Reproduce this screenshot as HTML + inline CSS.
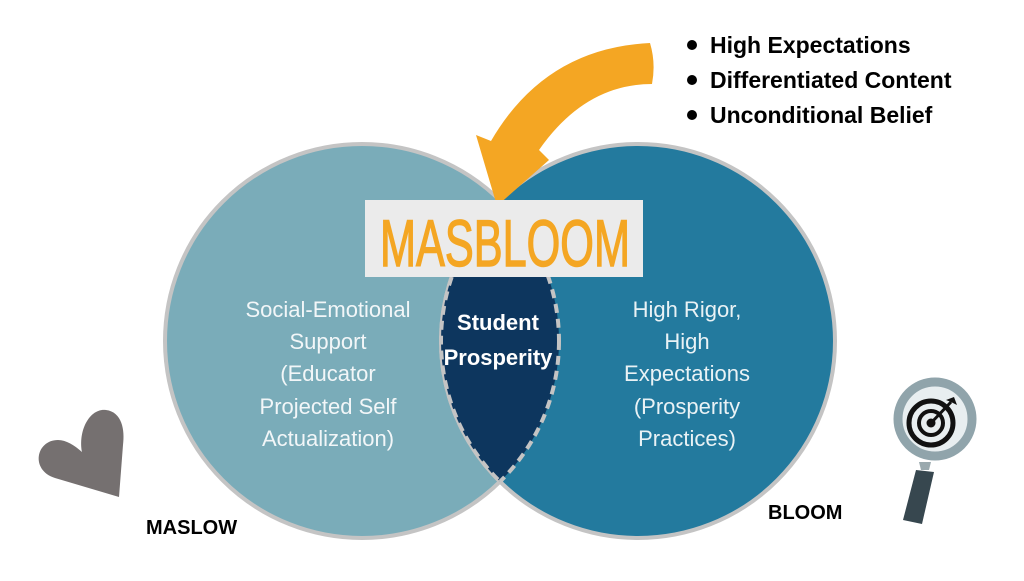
<!DOCTYPE html>
<html><head><meta charset="utf-8"><style>
body{margin:0;width:1024px;height:576px;background:#fff;overflow:hidden;font-family:"Liberation Sans",sans-serif}
</style></head><body>
<svg width="1024" height="576" viewBox="0 0 1024 576" xmlns="http://www.w3.org/2000/svg">
<defs>
<clipPath id="cl"><circle cx="362" cy="341" r="197"/></clipPath>
<clipPath id="cr"><circle cx="638" cy="341" r="197"/></clipPath>
</defs>
<circle cx="362" cy="341" r="197" fill="#7aacb9" stroke="#c4c4c4" stroke-width="4"/>
<circle cx="638" cy="341" r="197" fill="#237a9e" stroke="#c4c4c4" stroke-width="4"/>
<g clip-path="url(#cl)">
<circle cx="638" cy="341" r="197" fill="#0d365e"/>
<circle cx="638" cy="341" r="197" fill="none" stroke="#c4c4c4" stroke-width="4" stroke-dasharray="9,6"/>
</g>
<g clip-path="url(#cr)">
<circle cx="362" cy="341" r="197" fill="none" stroke="#c4c4c4" stroke-width="4" stroke-dasharray="9,6"/>
</g>
<!-- arrow -->
<path d="M650,43 Q656,63 652,84 Q585,84 539,150 L549,160 L497,206 L476,135 L491,141 Q545,48 650,43 Z" fill="#f4a623"/>
<!-- box -->
<rect x="365" y="200" width="278" height="77" fill="#ebebeb"/>
<text x="380" y="266" font-family="Liberation Sans Narrow, Liberation Sans, sans-serif" font-size="66" fill="#f4a623" stroke="#f4a623" stroke-width="1.5" textLength="250" lengthAdjust="spacingAndGlyphs">MASBLOOM</text>
<g fill="#fff" font-size="22" text-anchor="middle" opacity="0.9">
<text x="328" y="317">Social-Emotional</text>
<text x="328" y="349">Support</text>
<text x="328" y="381">(Educator</text>
<text x="328" y="414">Projected Self</text>
<text x="328" y="446">Actualization)</text>
<text x="687" y="317">High Rigor,</text>
<text x="687" y="349">High</text>
<text x="687" y="381">Expectations</text>
<text x="687" y="414">(Prosperity</text>
<text x="687" y="446">Practices)</text>
</g>
<g fill="#fff" font-size="22" font-weight="bold" text-anchor="middle">
<text x="498" y="330">Student</text>
<text x="498" y="365">Prosperity</text>
</g>
<g font-size="23" font-weight="bold" fill="#000">
<circle cx="692" cy="45" r="5"/><text x="710" y="53">High Expectations</text>
<circle cx="692" cy="80" r="5"/><text x="710" y="88">Differentiated Content</text>
<circle cx="692" cy="115" r="5"/><text x="710" y="123">Unconditional Belief</text>
<text x="146" y="534" font-size="20">MASLOW</text>
<text x="768" y="519" font-size="20">BLOOM</text>
</g>
<!-- heart -->
<path d="M119,497 L55,478 C30,470 36,440 58,440 C66,440 74,445 82,452 C78,430 90,408 106,410 C122,412 125,430 123,445 Z" fill="#757070"/>
<!-- magnifier -->
<path d="M919,462 L931,462 L929,470 L921,470 Z" fill="#9aa9ae"/>
<path d="M916,470 L934,472 L922,524 L903,520 Z" fill="#37474f"/>
<circle cx="935" cy="419" r="37" fill="#e8eef0" stroke="#90a4ab" stroke-width="9"/>
<circle cx="931" cy="423" r="22" fill="none" stroke="#111" stroke-width="5"/>
<circle cx="931" cy="423" r="12" fill="none" stroke="#111" stroke-width="4"/>
<circle cx="931" cy="423" r="4.5" fill="#111"/>
<line x1="931" y1="423" x2="951" y2="402" stroke="#111" stroke-width="3"/>
<path d="M946,400 L954,397 L957,405 L951,402 Z" fill="#111"/>
</svg>
</body></html>
